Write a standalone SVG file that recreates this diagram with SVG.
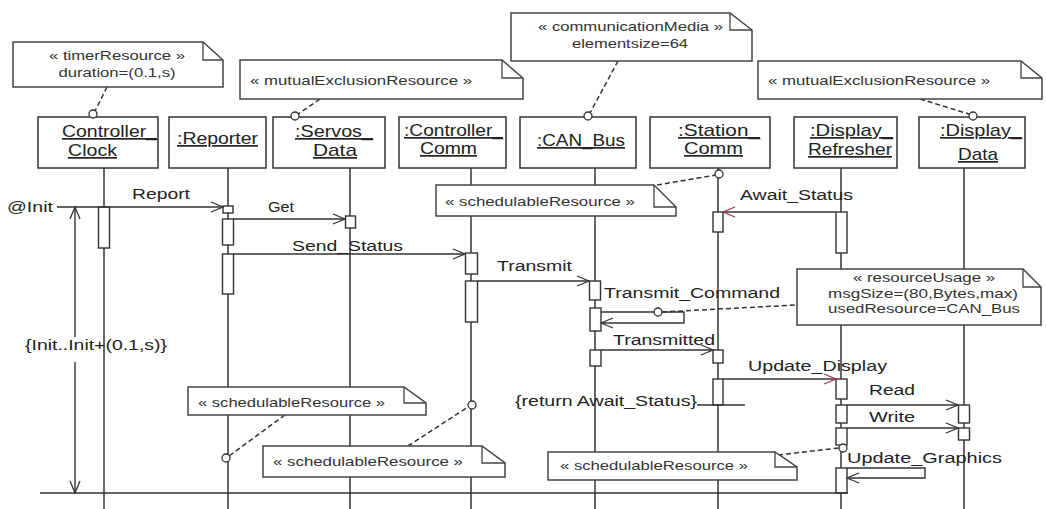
<svg xmlns="http://www.w3.org/2000/svg" width="1046" height="509" viewBox="0 0 1046 509">
<defs>
<style>
.box{fill:#fff;stroke:#333;stroke-width:1.5}
.life{stroke:#333;stroke-width:1.5}
.act{fill:#fff;stroke:#333;stroke-width:1.4}
.note{fill:#fff;stroke:#444;stroke-width:1.5}
.fold{fill:none;stroke:#444;stroke-width:1.3}
.msg{fill:none;stroke:#333;stroke-width:1.4;marker-end:url(#arr)}
.msgr{fill:none;stroke:#333;stroke-width:1.4;marker-end:url(#arrR)}
.ln{fill:none;stroke:#333;stroke-width:1.4}
.dash{fill:none;stroke:#333;stroke-width:1.5;stroke-dasharray:5 3}
.circ{fill:#fff;stroke:#333;stroke-width:1.3}
.obj{font-family:"Liberation Sans",Arial,sans-serif;font-size:17px;fill:#222;text-decoration:underline}
.lbl{font-family:"Liberation Sans",Arial,sans-serif;font-size:15.5px;fill:#222}
.nt{font-family:"Liberation Sans",Arial,sans-serif;font-size:13px;fill:#333}
</style>
<marker id="arr" markerUnits="userSpaceOnUse" viewBox="0 0 12 10" markerWidth="12" markerHeight="10" refX="12" refY="5" orient="auto" overflow="visible">
<path d="M0,0 L12,5 L0,10" fill="none" stroke="#333" stroke-width="1.3"/>
</marker>
<marker id="arrR" markerUnits="userSpaceOnUse" viewBox="0 0 12 10" markerWidth="12" markerHeight="10" refX="12" refY="5" orient="auto" overflow="visible">
<path d="M0,0 L12,5 L0,10" fill="none" stroke="#9a3a55" stroke-width="1.3"/>
</marker>
</defs>
<rect width="1046" height="509" fill="#fff"/>

<!-- Lifelines -->
<g id="ControllerClock">
<line class="life" x1="104" y1="168" x2="104" y2="509"/>
<rect class="box" x="38" y="117" width="120" height="51"/>
<text class="obj" x="62" y="137" textLength="95" lengthAdjust="spacingAndGlyphs">Controller_</text>
<text class="obj" x="68" y="156" textLength="49" lengthAdjust="spacingAndGlyphs">Clock</text>
<rect class="act" x="98.5" y="207" width="11" height="41"/>
</g>
<g id="Reporter">
<line class="life" x1="228" y1="168" x2="228" y2="509"/>
<rect class="box" x="169" y="117" width="97" height="51"/>
<text class="obj" x="177" y="144" textLength="81" lengthAdjust="spacingAndGlyphs">:Reporter</text>
<rect class="act" x="223" y="206" width="10" height="7"/>
<rect class="act" x="222.5" y="219" width="11" height="26"/>
<rect class="act" x="222.5" y="254" width="11" height="40"/>
</g>
<g id="ServosData">
<line class="life" x1="350" y1="168" x2="350" y2="509"/>
<rect class="box" x="273" y="117" width="112" height="51"/>
<text class="obj" x="295" y="137" textLength="78" lengthAdjust="spacingAndGlyphs">:Servos_</text>
<text class="obj" x="313" y="156" textLength="44" lengthAdjust="spacingAndGlyphs">Data</text>
<rect class="act" x="345.5" y="216" width="10" height="12"/>
</g>
<g id="ControllerComm">
<line class="life" x1="471" y1="168" x2="471" y2="509"/>
<rect class="box" x="399" y="117" width="107" height="51"/>
<text class="obj" x="404" y="136" textLength="99" lengthAdjust="spacingAndGlyphs">:Controller_</text>
<text class="obj" x="420" y="154" textLength="57" lengthAdjust="spacingAndGlyphs">Comm</text>
<rect class="act" x="465.5" y="253" width="12" height="21"/>
<rect class="act" x="465.5" y="281" width="12" height="41"/>
</g>
<g id="CANBus">
<line class="life" x1="595" y1="168" x2="595" y2="509"/>
<rect class="box" x="520" y="117" width="116" height="51"/>
<text class="obj" x="537" y="146" textLength="88" lengthAdjust="spacingAndGlyphs">:CAN_Bus</text>
<rect class="act" x="589.5" y="281" width="11" height="19"/>
<rect class="act" x="590" y="308" width="11" height="23"/>
<rect class="act" x="590" y="350" width="11" height="16"/>
</g>
<g id="StationComm">
<line class="life" x1="718" y1="168" x2="718" y2="509"/>
<rect class="box" x="650" y="117" width="120" height="51"/>
<text class="obj" x="678" y="136" textLength="82" lengthAdjust="spacingAndGlyphs">:Station_</text>
<text class="obj" x="684" y="154" textLength="59" lengthAdjust="spacingAndGlyphs">Comm</text>
<rect class="act" x="713" y="212" width="10" height="20"/>
<rect class="act" x="713" y="350" width="10" height="13"/>
<rect class="act" x="713" y="379" width="10" height="26"/>
</g>
<g id="DisplayRefresher">
<line class="life" x1="841" y1="168" x2="841" y2="509"/>
<rect class="box" x="794" y="117" width="103" height="51"/>
<text class="obj" x="810" y="136" textLength="83" lengthAdjust="spacingAndGlyphs">:Display_</text>
<text class="obj" x="808" y="155" textLength="84" lengthAdjust="spacingAndGlyphs">Refresher</text>
<rect class="act" x="836" y="212" width="11" height="41"/>
<rect class="act" x="836" y="379" width="11" height="20"/>
<rect class="act" x="836" y="405" width="11" height="18"/>
<rect class="act" x="836" y="428" width="11" height="17"/>
<rect class="act" x="836" y="468" width="11" height="25"/>
</g>
<g id="DisplayData">
<line class="life" x1="964" y1="168" x2="964" y2="509"/>
<rect class="box" x="919" y="117" width="106" height="51"/>
<text class="obj" x="940" y="136" textLength="82" lengthAdjust="spacingAndGlyphs">:Display_</text>
<text class="obj" x="958" y="160" textLength="40" lengthAdjust="spacingAndGlyphs">Data</text>
<rect class="act" x="958.5" y="405" width="11" height="18"/>
<rect class="act" x="958.5" y="428" width="11" height="12"/>
</g>

<!-- Connectors -->
<g id="connectors">
<line class="msg" x1="57" y1="207" x2="223" y2="207"/>
<line class="msg" x1="233" y1="219" x2="345" y2="219"/>
<line class="msg" x1="233" y1="254" x2="465" y2="254"/>
<line class="msg" x1="478" y1="281" x2="589" y2="281"/>
<path class="msg" d="M601,312 H684 V323 H601"/>
<line class="msg" x1="601" y1="350" x2="713" y2="350"/>
<line class="msgr" x1="836" y1="212" x2="723" y2="212"/>
<line class="msgr" x1="723" y1="379" x2="836" y2="379"/>
<line class="msg" x1="847" y1="405" x2="958" y2="405"/>
<line class="msg" x1="847" y1="428" x2="958" y2="428"/>
<path class="msg" d="M847,468 H925 V478 H847"/>
<line class="ln" x1="697" y1="405" x2="745" y2="405"/>
<line class="ln" x1="40" y1="493" x2="848" y2="493"/>
<line class="msg" x1="75" y1="337" x2="75" y2="207"/>
<line class="msg" x1="75" y1="362" x2="75" y2="493"/>
<line class="dash" x1="107" y1="87" x2="95" y2="111"/>
<line class="dash" x1="320" y1="99" x2="298" y2="114"/>
<line class="dash" x1="618" y1="61" x2="590" y2="113"/>
<line class="dash" x1="920" y1="99" x2="969" y2="114"/>
<line class="dash" x1="657" y1="185" x2="716" y2="175"/>
<line class="dash" x1="662" y1="312" x2="797" y2="305"/>
<line class="dash" x1="285" y1="415" x2="229" y2="456"/>
<line class="dash" x1="408" y1="446" x2="468" y2="407"/>
<line class="dash" x1="778" y1="455" x2="839" y2="448"/>
</g>

<!-- Labels -->
<g id="labels">
<text class="lbl" x="7" y="212" textLength="46" lengthAdjust="spacingAndGlyphs">@Init</text>
<text class="lbl" x="132" y="199" textLength="58" lengthAdjust="spacingAndGlyphs">Report</text>
<text class="lbl" x="268" y="212" textLength="26" lengthAdjust="spacingAndGlyphs">Get</text>
<text class="lbl" x="292" y="251" textLength="111" lengthAdjust="spacingAndGlyphs">Send_Status</text>
<text class="lbl" x="497" y="271" textLength="75" lengthAdjust="spacingAndGlyphs">Transmit</text>
<text class="lbl" x="604" y="298" textLength="176" lengthAdjust="spacingAndGlyphs">Transmit_Command</text>
<text class="lbl" x="613" y="345" textLength="102" lengthAdjust="spacingAndGlyphs">Transmitted</text>
<text class="lbl" x="740" y="200" textLength="113" lengthAdjust="spacingAndGlyphs">Await_Status</text>
<text class="lbl" x="748" y="371" textLength="139" lengthAdjust="spacingAndGlyphs">Update_Display</text>
<text class="lbl" x="515" y="406" textLength="182" lengthAdjust="spacingAndGlyphs">{return Await_Status}</text>
<text class="lbl" x="869" y="395" textLength="46" lengthAdjust="spacingAndGlyphs">Read</text>
<text class="lbl" x="869" y="422" textLength="46" lengthAdjust="spacingAndGlyphs">Write</text>
<text class="lbl" x="847" y="463" textLength="155" lengthAdjust="spacingAndGlyphs">Update_Graphics</text>
<text class="lbl" x="25" y="350" textLength="142" lengthAdjust="spacingAndGlyphs">{Init..Init+(0.1,s)}</text>
</g>

<!-- Notes -->
<g id="note-timer">
<path class="note" d="M13,42 H203 L223,60 V87 H13 Z"/>
<path class="fold" d="M203,42 V60 H223"/>
<text class="nt" x="117" y="60" text-anchor="middle" textLength="136" lengthAdjust="spacingAndGlyphs">« timerResource »</text>
<text class="nt" x="117" y="77" text-anchor="middle" textLength="117" lengthAdjust="spacingAndGlyphs">duration=(0.1,s)</text>
</g>
<g id="note-mutex1">
<path class="note" d="M240,60 H502 L523,78 V99 H240 Z"/>
<path class="fold" d="M502,60 V78 H523"/>
<text class="nt" x="250" y="85" textLength="222" lengthAdjust="spacingAndGlyphs">« mutualExclusionResource »</text>
</g>
<g id="note-comm">
<path class="note" d="M511,13 H730 L752,30 V61 H511 Z"/>
<path class="fold" d="M730,13 V30 H752"/>
<text class="nt" x="538" y="31" textLength="185" lengthAdjust="spacingAndGlyphs">« communicationMedia »</text>
<text class="nt" x="572" y="48" textLength="116" lengthAdjust="spacingAndGlyphs">elementsize=64</text>
</g>
<g id="note-mutex2">
<path class="note" d="M758,61 H1021 L1042,78 V99 H758 Z"/>
<path class="fold" d="M1021,61 V78 H1042"/>
<text class="nt" x="768" y="85" textLength="222" lengthAdjust="spacingAndGlyphs">« mutualExclusionResource »</text>
</g>
<g id="note-sched-top">
<path class="note" d="M436,185 H654 L676,207 V216 H436 Z"/>
<path class="fold" d="M654,185 V207 H676"/>
<text class="nt" x="445" y="206" textLength="190" lengthAdjust="spacingAndGlyphs">« schedulableResource »</text>
</g>
<g id="note-usage">
<path class="note" d="M797,269 H1023 L1041,287 V325 H797 Z"/>
<path class="fold" d="M1023,269 V287 H1041"/>
<text class="nt" x="924" y="282" text-anchor="middle" textLength="142" lengthAdjust="spacingAndGlyphs">« resourceUsage »</text>
<text class="nt" x="828" y="298" textLength="190" lengthAdjust="spacingAndGlyphs">msgSize=(80,Bytes,max)</text>
<text class="nt" x="828" y="313" textLength="192" lengthAdjust="spacingAndGlyphs">usedResource=CAN_Bus</text>
</g>
<g id="note-sched-left">
<path class="note" d="M188,387 H404 L426,403 V415 H188 Z"/>
<path class="fold" d="M404,387 V403 H426"/>
<text class="nt" x="198" y="407" textLength="187" lengthAdjust="spacingAndGlyphs">« schedulableResource »</text>
</g>
<g id="note-sched-mid">
<path class="note" d="M263,446 H482 L505,463 V477 H263 Z"/>
<path class="fold" d="M482,446 V463 H505"/>
<text class="nt" x="273" y="466" textLength="190" lengthAdjust="spacingAndGlyphs">« schedulableResource »</text>
</g>
<g id="note-sched-right">
<path class="note" d="M548,452 H775 L797,467 V480 H548 Z"/>
<path class="fold" d="M775,452 V467 H797"/>
<text class="nt" x="560" y="470" textLength="188" lengthAdjust="spacingAndGlyphs">« schedulableResource »</text>
</g>

<!-- Attachment circles -->
<g id="anchors">
<circle class="circ" cx="93" cy="114" r="4"/>
<circle class="circ" cx="295" cy="116" r="4"/>
<circle class="circ" cx="588" cy="116" r="4"/>
<circle class="circ" cx="973" cy="116" r="4"/>
<circle class="circ" cx="719" cy="174" r="4"/>
<circle class="circ" cx="658" cy="312" r="4"/>
<circle class="circ" cx="226" cy="458" r="4"/>
<circle class="circ" cx="472" cy="405" r="4"/>
<circle class="circ" cx="843" cy="448" r="4"/>
</g>
</svg>
